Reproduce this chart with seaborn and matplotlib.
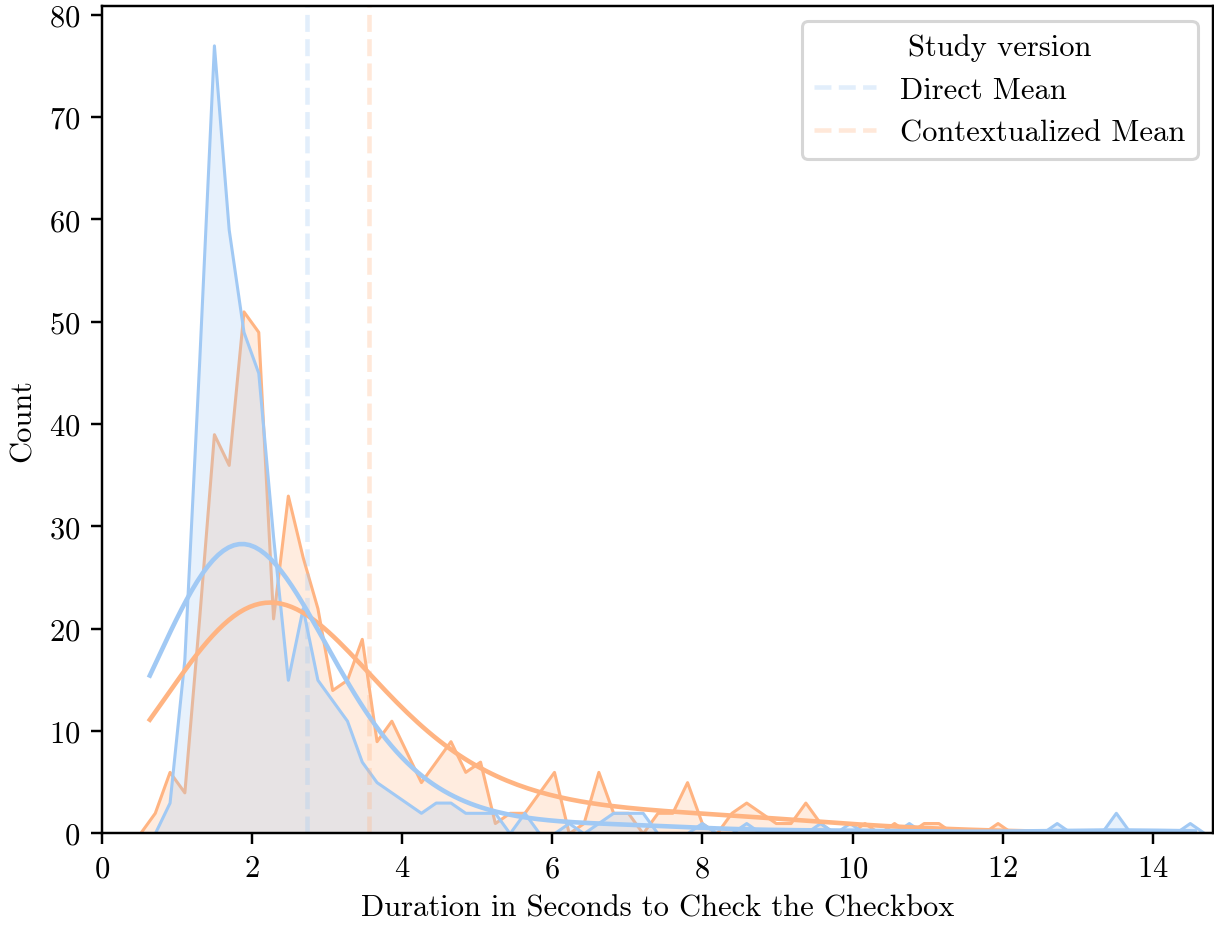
import numpy as np
import pandas as pd
import matplotlib
matplotlib.use("Agg")
import matplotlib.pyplot as plt
import seaborn as sns

# Computer Modern look, like the LaTeX-rendered original
plt.rcParams["font.family"] = "serif"
plt.rcParams["font.serif"] = ["cmr10"]
plt.rcParams["mathtext.fontset"] = "cm"
plt.rcParams["axes.formatter.use_mathtext"] = True
plt.rcParams["font.size"] = 10

# Histogram bins (seconds) and counts
bin_start = 0.408
bin_width = 0.197
versions = ["Direct", "Contextualized"]

direct_counts = [
    0, 0, 3, 17, 46, 77, 59, 49, 45, 29,
    15, 22, 15, 13, 11, 7, 5, 4, 3, 2,
    3, 3, 2, 2, 2, 0, 2, 0, 0, 1,
    0, 1, 2, 2, 2, 0, 0, 0, 1, 0,
    0, 1, 0, 0, 0, 0, 1, 0, 1, 0,
    0, 0, 1, 0, 0, 0, 0, 0, 0, 0,
    0, 0, 1, 0, 0, 0, 2, 0, 0, 0,
    0, 1, 0, 0, 0, 0,
]
contextualized_counts = [
    0, 2, 6, 4, 21, 39, 36, 51, 49, 21,
    33, 27, 22, 14, 15, 19, 9, 11, 8, 5,
    7, 9, 6, 7, 1, 2, 2, 4, 6, 0,
    1, 6, 2, 2, 0, 2, 2, 5, 1, 0,
    2, 3, 2, 1, 1, 3, 1, 0, 0, 1,
    0, 1, 0, 1, 1, 0, 0, 0, 1, 0,
    0, 0, 0, 0, 0, 0, 0, 0, 0, 0,
    0, 0, 0, 0, 0, 0,
]

# Means as marked by the dashed lines
direct_mean = 2.73
contextualized_mean = 3.56

edges = bin_start + bin_width * np.arange(len(direct_counts) + 1)
centers = edges[:-1] + bin_width / 2
df = pd.DataFrame({
    "duration": np.concatenate([np.repeat(centers, direct_counts),
                                np.repeat(centers, contextualized_counts)]),
    "version": [versions[0]] * sum(direct_counts) + [versions[1]] * sum(contextualized_counts),
})

palette = sns.color_palette("pastel")[:2]

fig, ax = plt.subplots(figsize=(1214 / 220, 928 / 220), dpi=220)
sns.histplot(
    data=df, x="duration", hue="version", hue_order=versions,
    bins=edges, element="poly", kde=True, palette=palette,
    kde_kws={"bw_adjust": 2.0, "cut": 0.07}, legend=False, ax=ax,
)

ax.axvline(direct_mean, color=palette[0], linestyle="--", alpha=0.3, label="Direct Mean")
ax.axvline(contextualized_mean, color=palette[1], linestyle="--", alpha=0.3, label="Contextualized Mean")
ax.legend(title="Study version", loc="upper right")

ax.set_xlim(0, 14.8)
ax.set_xlabel("Duration in Seconds to Check the Checkbox")
ax.set_ylabel("Count")

fig.subplots_adjust(left=0.084, right=0.999, bottom=0.101, top=0.9925)
fig.savefig("out.png", dpi=220)
